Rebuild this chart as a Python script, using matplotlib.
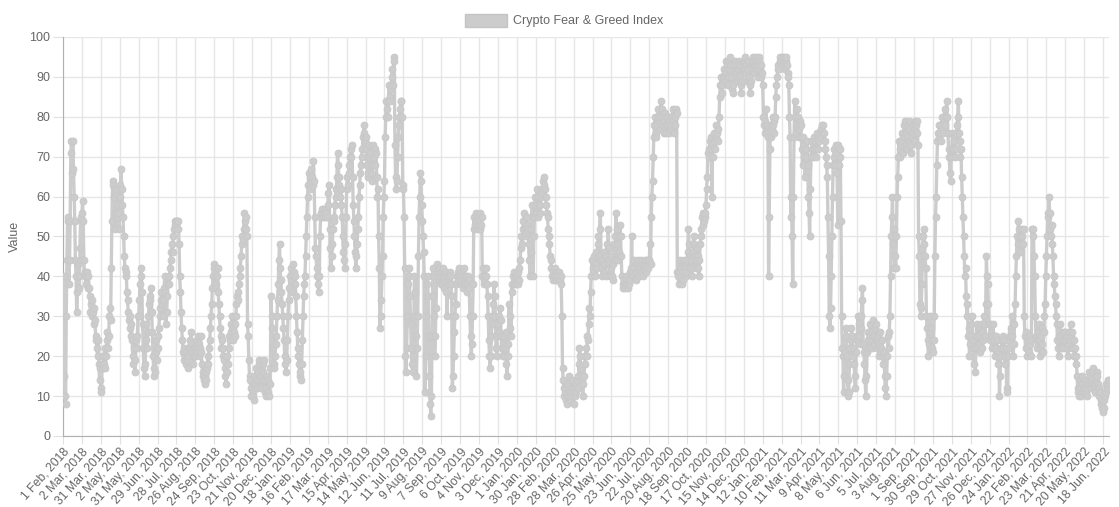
import pandas as pd
import matplotlib
matplotlib.use("Agg")
import matplotlib.pyplot as plt
from matplotlib.patches import Rectangle

plt.rcParams['font.family'] = ['Liberation Sans', 'DejaVu Sans']

# daily index values (one line per 29-day tick interval)
fg_2018 = [
    30, 40, 15, 10, 8, 30, 44, 54, 55, 38, 44, 54, 71, 74, 66, 74, 67, 60, 54, 44, 40, 31, 36, 43, 40, 37, 47, 55, 44,
    56, 59, 54, 44, 40, 41, 38, 40, 41, 37, 40, 37, 35, 31, 33, 30, 34, 31, 28, 32, 29, 25, 24, 22, 20, 24, 18, 14, 17,
    12, 11, 18, 17, 20, 18, 22, 17, 20, 24, 26, 22, 25, 30, 32, 29, 42, 54, 64, 63, 60, 56, 52, 61, 62, 55, 58, 56, 52,
    60, 63, 67, 62, 58, 55, 50, 45, 42, 40, 41, 36, 34, 31, 29, 30, 27, 25, 28, 24, 20, 18, 22, 16, 19, 24, 22, 25, 30,
    30, 34, 38, 40, 42, 36, 28, 22, 17, 15, 18, 24, 28, 22, 26, 30, 33, 35, 34, 37, 31, 26, 20, 17, 15, 16, 21, 24, 19,
    22, 25, 27, 30, 32, 34, 36, 33, 30, 34, 37, 40, 36, 28, 31, 35, 38, 40, 38, 42, 44, 46, 48, 46, 50, 52, 54, 53, 54,
    53, 54, 52, 54, 48, 40, 36, 31, 27, 24, 21, 19, 22, 20, 18, 21, 19, 17, 20, 22, 24, 22, 26, 23, 21, 20, 18, 22, 20,
    20, 22, 24, 21, 25, 23, 20, 22, 25, 21, 18, 16, 15, 14, 13, 15, 14, 16, 17, 20, 18, 22, 24, 27, 30, 33, 37, 40, 43,
    42, 41, 38, 37, 40, 42, 36, 33, 30, 27, 25, 22, 24, 20, 22, 19, 17, 15, 13, 16, 20, 18, 22, 25, 24, 28, 26, 30, 27,
    24, 26, 25, 28, 30, 33, 35, 36, 34, 38, 40, 42, 45, 48, 50, 49, 52, 56, 54, 52, 55, 50, 28, 25, 19, 15, 14, 12, 10,
    12, 11, 10, 9, 13, 15, 17, 14, 12, 16, 18, 19, 15, 13, 12, 14, 16, 18, 19, 14, 11, 10, 12, 15, 14, 11, 10, 13, 17,
    35, 30, 27, 22, 18, 17, 20, 23, 25, 30, 34, 38,
]
fg_2019 = [
    44, 48, 42, 39, 36, 33, 30, 27, 24, 20, 18, 16, 19, 24, 30, 34, 37,
    40, 42, 39, 36, 40, 43, 41, 38, 40, 35, 30, 26, 22, 20, 18, 15, 16, 14, 18, 24, 30, 35, 38, 40, 45, 50, 55, 60, 63,
    66, 62, 65, 64, 67, 65, 63, 69, 64, 55, 47, 45, 42, 40, 38, 36, 40, 50, 55, 56, 57, 55, 56, 57, 56, 55, 57, 56, 55,
    58, 61, 63, 52, 47, 42, 45, 48, 52, 55, 54, 58, 60, 62, 65, 71, 68, 65, 63, 60, 62, 58, 55, 50, 46, 44, 42, 48, 55,
    62, 65, 63, 66, 68, 70, 72, 70, 73, 65, 58, 54, 50, 46, 42, 45, 48, 52, 55, 60, 63, 66, 68, 70, 72, 75, 76, 78, 74,
    75, 72, 68, 65, 66, 70, 73, 71, 68, 66, 64, 68, 73, 70, 68, 72, 71, 65, 60, 62, 50, 42, 27, 30, 34, 40, 45, 55, 60,
    64, 75, 80, 84, 82, 80, 84, 88, 85, 84, 87, 90, 92, 88, 95, 94, 73, 65, 62, 64, 70, 75, 78, 80, 82, 84, 84, 80, 63,
    62, 55, 42, 20, 16, 22, 30, 38, 42, 40, 35, 28, 22, 18, 16, 20, 30, 40, 36, 25, 15, 22, 30, 45, 55, 60, 66, 64, 58,
    54, 50, 46, 40, 11, 20, 30, 38, 40, 35, 25, 15, 8, 5, 10, 25, 42, 35, 30, 20, 25, 32, 40, 43, 41, 39, 42, 40, 38,
    41, 38, 40, 42, 39, 37, 40, 41, 36, 30, 38, 40, 39, 41, 40, 38, 35, 12, 15, 20, 26, 30, 33, 38, 40, 41, 39, 40, 42,
    40, 38, 39, 41, 40, 37, 42, 39, 38, 40, 36, 38, 40, 39, 37, 30, 25, 20, 23, 30, 38, 55, 52, 53, 56, 54, 52, 55, 53,
    54, 56, 52, 53, 55, 40, 42, 38, 39, 40, 42, 40, 38, 35, 30, 24, 20, 17, 20, 25, 30, 28, 33, 38, 35, 30, 22, 20, 25,
    28, 30, 26, 32, 29, 25, 22, 20, 23, 25, 20, 22, 26, 18, 15, 20, 23, 33, 27, 30, 25, 38, 36, 40, 38, 41, 39, 40, 38,
]
fg_2020 = [
    40, 38, 41, 39, 42, 44, 47, 50, 48, 52, 54, 56, 52, 50, 51, 53, 55, 52, 48, 44, 40, 46, 52, 58, 55, 40, 50, 55, 60,
    58, 56, 62, 60, 55, 58, 56, 58, 60, 62, 61, 64, 63, 65, 62, 60, 58, 56, 55, 52, 50, 48, 45, 44, 42, 40, 41, 39, 40,
    42, 40, 39, 41, 40, 39, 41, 40, 39, 40, 38, 30, 17, 14, 12, 10, 11, 9, 12, 8, 10, 13, 15, 11, 9, 10, 14, 12, 11,
    8, 12, 10, 13, 11, 14, 15, 12, 18, 22, 20, 17, 15, 14, 10, 13, 15, 18, 20, 22, 20, 25, 24, 28, 32, 30, 36, 40, 44,
    44, 42, 45, 41, 40, 43, 46, 42, 48, 50, 45, 52, 56, 44, 42, 40, 44, 46, 41, 43, 40, 45, 48, 44, 52, 47, 43, 40, 42,
    45, 40, 39, 43, 48, 44, 50, 56, 52, 48, 44, 46, 50, 53, 50, 45, 40, 38, 37, 38, 39, 37, 38, 40, 39, 38, 37, 38, 39,
    41, 42, 50, 41, 40, 42, 44, 40, 39, 41, 43, 42, 44, 41, 40, 42, 43, 44, 41, 42, 40, 43, 44, 42, 41, 43, 44, 42, 44,
    44, 48, 43, 55, 60, 64, 70, 75, 78, 80, 76, 75, 78, 80, 82, 79, 77, 80, 84, 82, 80, 78, 76, 79, 81, 78, 76, 80, 78,
    78, 80, 76, 79, 77, 78, 80, 82, 79, 76, 78, 80, 82, 81, 41, 40, 38, 41, 44, 42, 40, 38, 39, 41, 43, 44, 42, 40, 41,
    44, 46, 52, 48, 45, 42, 44, 40, 42, 46, 50, 48, 45, 42, 44, 47, 45, 42, 40, 44, 48, 50, 52, 55, 56, 53, 54, 55, 56,
    58, 62, 65, 71, 70, 72, 74, 75, 72, 60, 70, 73, 76, 74, 72, 75, 78, 76, 74, 77, 80, 85, 88, 90, 88, 86, 90, 92, 90,
    89, 91, 94, 93, 90, 88, 92, 94, 95, 93, 90, 87, 86, 88, 92, 94, 93, 91, 89, 90, 92, 94, 93, 90, 88, 86, 89, 92, 93,
    92, 94, 95, 93, 91, 89, 92, 94, 90, 88, 86, 89, 92, 94, 95, 93, 91, 93,
]
fg_2021 = [
    95, 94, 92, 90, 93, 95, 94, 92, 90, 93, 91,
    88, 80, 78, 76, 79, 82, 78, 76, 75, 40, 55, 72, 78, 75, 77, 80, 78, 76, 79, 80, 85, 88, 90, 92, 93, 92, 94, 95, 94,
    94, 95, 93, 94, 95, 92, 94, 95, 93, 91, 90, 88, 80, 75, 55, 60, 50, 38, 60, 75, 84, 80, 76, 78, 82, 80, 75, 77, 79,
    78, 75, 72, 68, 75, 73, 70, 65, 70, 72, 74, 68, 60, 56, 50, 62, 70, 72, 74, 70, 72, 75, 74, 70, 72, 76, 74, 72, 75,
    74, 76, 75, 77, 78, 76, 78, 76, 74, 72, 70, 68, 65, 55, 45, 30, 27, 32, 40, 50, 60, 68, 70, 72, 68, 73, 71, 66, 53,
    73, 68, 72, 70, 54, 30, 22, 20, 11, 15, 21, 25, 27, 20, 14, 10, 11, 18, 22, 24, 27, 25, 20, 22, 18, 15, 12, 21, 24,
    25, 30, 28, 25, 23, 27, 30, 34, 37, 23, 21, 18, 14, 10, 15, 21, 24, 26, 22, 25, 28, 24, 22, 26, 29, 25, 23, 27, 24,
    28, 24, 22, 25, 20, 23, 26, 22, 21, 24, 20, 18, 21, 15, 12, 10, 15, 20, 25, 22, 26, 30, 40, 50, 55, 60, 48, 52, 42,
    45, 42, 50, 60, 65, 70, 74, 72, 70, 73, 76, 74, 71, 75, 78, 79, 76, 73, 72, 75, 78, 79, 77, 74, 71, 73, 75, 78, 76,
    74, 77, 79, 78, 76, 79, 73, 50, 45, 33, 30, 32, 38, 47, 50, 52, 48, 45, 42, 30, 27, 24, 20, 23, 26, 30, 27, 24, 22,
    21, 24, 30, 45, 55, 60, 68, 74, 76, 75, 78, 76, 74, 78, 80, 77, 76, 79, 82, 78, 80, 84, 80, 76, 72, 70, 66, 64, 70,
    72, 76, 72, 75, 74, 70, 72, 76, 78, 80, 84, 76, 74, 70, 72, 65, 60, 55, 50, 45, 40, 42, 35, 30, 33, 25, 27, 20, 23,
    25, 28, 30, 22, 24, 18, 22, 16, 25, 28, 22, 25, 27, 23, 21, 25, 28, 26, 22, 24, 28, 30, 25, 33, 45, 40, 38, 33, 28,
    28, 24, 26, 22, 25, 28,
]
fg_2022 = [
    24, 22, 20, 25, 22, 24, 20, 18, 21, 10, 15, 20, 22, 24, 25, 22, 24, 20, 18, 22, 12, 11, 20,
    22, 24, 25, 27, 26, 30, 25, 20, 23, 28, 33, 40, 45, 50, 48, 54, 52, 50, 46, 48, 52, 50, 48, 52, 30, 25, 22, 26, 20,
    22, 24, 21, 25, 23, 20, 24, 52, 50, 52, 45, 40, 30, 25, 22, 24, 26, 28, 24, 20, 22, 25, 27, 23, 21, 26, 30, 33, 40,
    45, 50, 55, 56, 60, 56, 52, 50, 53, 48, 45, 40, 38, 35, 33, 30, 28, 24, 22, 20, 25, 28, 25, 22, 24, 26, 22, 24, 26,
    26, 24, 22, 25, 20, 23, 26, 24, 28, 25, 22, 26, 22, 24, 20, 22, 18, 20, 15, 12, 11, 10, 14, 12, 10, 13, 15, 11, 12,
    12, 14, 13, 11, 12, 10, 13, 14, 16, 15, 13, 12, 14, 17, 16, 13, 12, 11, 14, 16, 15, 13, 12, 10, 11, 9, 8, 7, 8,
    6, 7, 9, 10, 11, 13, 12, 14, 13, 14,
]

values = fg_2018 + fg_2019 + fg_2020 + fg_2021 + fg_2022

# the source has no data for 14-16 Apr 2018
missing_days = pd.to_datetime(['2018-04-14', '2018-04-15', '2018-04-16'])
days = pd.date_range('2018-02-01', periods=len(values) + len(missing_days), freq='D')
days = days.drop(missing_days)

labels = ['%d %s, %d' % (d.day, d.strftime('%b'), d.year) for d in days]
x_vals = list(range(len(values)))
tick_step = 29

fig = plt.figure(figsize=(11.19, 5.07), dpi=100)
ax = fig.add_axes([63 / 1119, 71 / 507, 1046 / 1119, 399 / 507])

ax.plot(x_vals, values, '-', color='#cccccc', linewidth=2.4,
        marker='o', markersize=5, markerfacecolor='#cccccc',
        markeredgecolor='#c8c8c8', markeredgewidth=0.6, zorder=3)

ax.set_xlim(0, len(values) - 1)
ax.set_ylim(0, 100)
ax.set_yticks(range(0, 101, 10))
tick_pos = x_vals[::tick_step]
ax.set_xticks(tick_pos)
ax.set_xticklabels([labels[i] for i in tick_pos], rotation=48, ha='right',
                   rotation_mode='anchor', fontsize=8.8, color='#666666')
ax.tick_params(axis='y', labelsize=9, labelcolor='#666666', length=7, color='#e0e0e0', pad=2)
ax.tick_params(axis='x', length=6, color='#e0e0e0', pad=1)

ax.grid(True, color='#e6e6e6', linewidth=1)
ax.set_axisbelow(True)
for side in ['top', 'right']:
    ax.spines[side].set_visible(False)
for side in ['left', 'bottom']:
    ax.spines[side].set_color('#b0b0b0')

ax.set_ylabel('Value', fontsize=9, color='#666666', labelpad=6)

# legend box like the original chart
fig.patches.append(Rectangle((465 / 1119, 1 - 27 / 507), 42 / 1119, 13 / 507,
                             transform=fig.transFigure, facecolor='#cccccc',
                             edgecolor='#c4c4c4', linewidth=1))
fig.text(513 / 1119, 1 - 21 / 507, 'Crypto Fear & Greed Index', fontsize=9,
         color='#666666', va='center', ha='left')

fig.savefig('out.png', dpi=100, facecolor='white')
